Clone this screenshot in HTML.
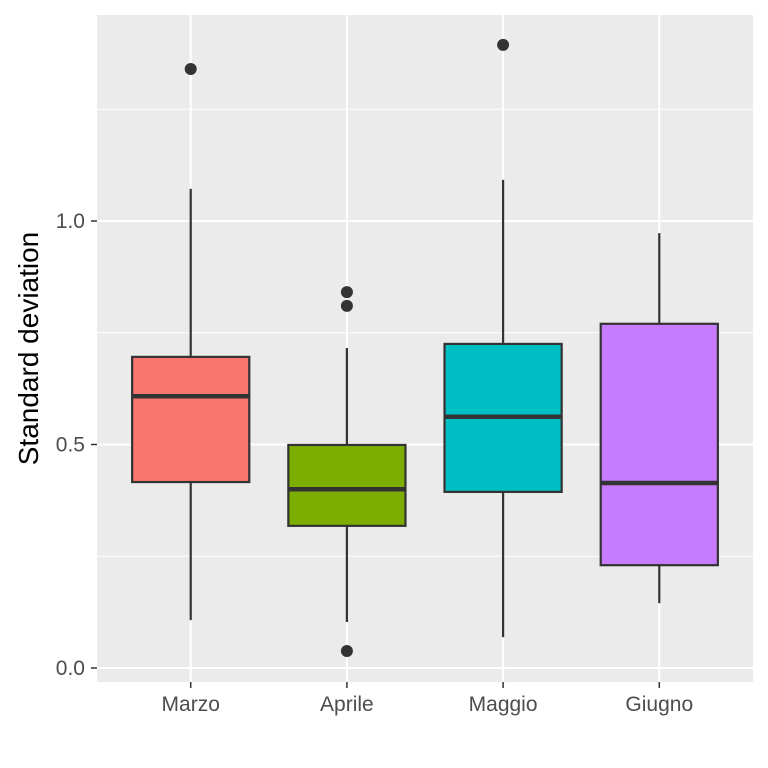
<!DOCTYPE html>
<html><head><meta charset="utf-8"><style>
html,body{margin:0;padding:0;background:#fff;}
svg{display:block;font-family:"Liberation Sans",sans-serif;}
</style></head><body>
<svg id="chart" width="768" height="768"></svg>
<script>
const categories = ["Marzo","Aprile","Maggio","Giugno"];
const whiskerLow = [0.107,0.103,0.069,0.145];
const q1Values = [0.416,0.318,0.394,0.230];
const medianValues = [0.608,0.400,0.562,0.414];
const q3Values = [0.696,0.499,0.725,0.770];
const whiskerHigh = [1.072,0.716,1.092,0.973];
const outliers = [[1.340],[0.841,0.810,0.038],[1.394],[]];
const yTicks = [0,0.5,1.0];
const yTickLabels = ["0.0","0.5","1.0"];
const yMinor = [0.25,0.75,1.25];
const fills = ["#F8766D","#7CAE00","#00BFC4","#C77CFF"];

const NS="http://www.w3.org/2000/svg";
const svg=document.getElementById('chart');
const L=97,R=753,T=15,B=682;
const y=v=>668-447*v;
const unit=(R-L)/(categories.length-1+1.2);
const x=i=>L+unit*(i+0.6);
const bw=unit*0.75;
function mk(tag,attrs,parent){const e=document.createElementNS(NS,tag);for(const k in attrs)e.setAttribute(k,attrs[k]);(parent||svg).appendChild(e);return e;}

const panel=mk('rect',{x:L,y:T,width:R-L,height:B-T,fill:'#ebebeb'});


yMinor.forEach(v=>{const g=mk('line',{x1:L,x2:R,y1:y(v),y2:y(v),stroke:'#fff','stroke-width':1});

});
yTicks.forEach((v,i)=>{const g=mk('line',{x1:L,x2:R,y1:y(v),y2:y(v),stroke:'#fff','stroke-width':2});


const tk=mk('line',{x1:L-6,x2:L,y1:y(v),y2:y(v),stroke:'#333','stroke-width':1.5});


const t=mk('text',{x:L-12,y:y(v)+7,'text-anchor':'end','font-size':21,fill:'#4d4d4d'});t.textContent=yTickLabels[i];

});
categories.forEach((c,i)=>{const g=mk('line',{x1:x(i),x2:x(i),y1:T,y2:B,stroke:'#fff','stroke-width':2});


const tk=mk('line',{x1:x(i),x2:x(i),y1:B,y2:B+6,stroke:'#333','stroke-width':1.5});


const t=mk('text',{x:x(i),y:B+29,'text-anchor':'middle','font-size':21,fill:'#4d4d4d'});t.textContent=c;

});

categories.forEach((c,i)=>{
 const g=mk('g',{});
 
 
 mk('line',{x1:x(i),x2:x(i),y1:y(whiskerHigh[i]),y2:y(q3Values[i]),stroke:'#333','stroke-width':2.2},g);
 mk('line',{x1:x(i),x2:x(i),y1:y(q1Values[i]),y2:y(whiskerLow[i]),stroke:'#333','stroke-width':2.2},g);
 mk('rect',{x:x(i)-bw/2,y:y(q3Values[i]),width:bw,height:y(q1Values[i])-y(q3Values[i]),fill:fills[i],stroke:'#333','stroke-width':2.2},g);
 mk('line',{x1:x(i)-bw/2,x2:x(i)+bw/2,y1:y(medianValues[i]),y2:y(medianValues[i]),stroke:'#333','stroke-width':4.5},g);
 outliers[i].forEach(v=>{const p=mk('circle',{cx:x(i),cy:y(v),r:6,fill:'#333'},g);
 
 });
});
const yt=mk('text',{x:0,y:0,'text-anchor':'middle','font-size':28,fill:'#000',transform:'translate(38,'+((T+B)/2)+') rotate(-90)'});
yt.textContent='Standard deviation';


</script>
</body></html>
